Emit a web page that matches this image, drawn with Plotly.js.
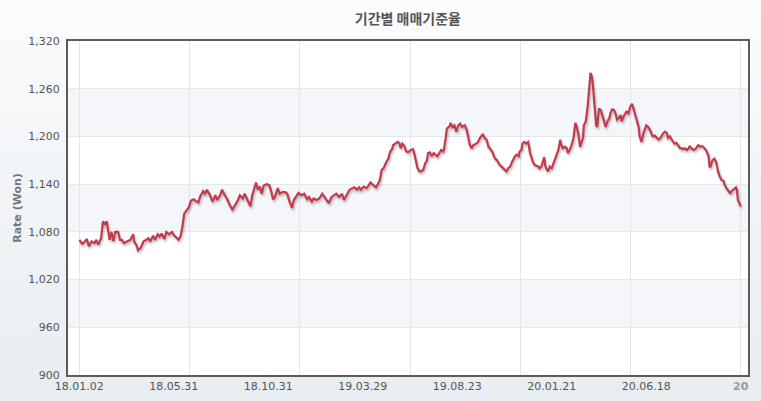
<!DOCTYPE html>
<html>
<head>
<meta charset="utf-8">
<script src="https://cdn.plot.ly/plotly-3.0.1.min.js"></script>
<style>
html,body{margin:0;padding:0;}
body{width:761px;height:401px;background:linear-gradient(#fbfcfd,#e7edf1);overflow:hidden;}
#chart{width:761px;height:401px;}
.scatterlayer path.js-line{filter:drop-shadow(1px 2px 1.2px rgba(0,0,0,0.28));}
</style>
</head>
<body>
<div id="chart"></div>
<script>
// trading-day index (0 = 18.01.02) and KRW/USD base rate
const dayIndex = [0,3,6,8,10,13,16,18,20,23,25,27,29,31,32,34,36,38,41,43,45,47,50,54,57,58,61,62,65,68,71,73,75,78,80,83,85,87,90,92,95,98,100,102,105,107,109,111,114,116,118,121,123,126,
128,131,133,135,138,141,144,146,149,151,154,157,159,162,165,167,170,173,175,178,181,183,185,187,189,191,193,195,198,201,203,205,207,210,212,215,218,220,222,225,227,230,232,235,238,241,243,246,248,251,254,257,259,262,264,267,270,272,275,278,280,283,286,
291,294,296,298,301,304,306,308,311,314,316,318,320,322,325,327,329,331,332,335,337,339,340,342,344,346,348,351,353,354,356,358,360,362,364,366,368,369,371,373,375,377,379,381,383,385,386,388,389,392,393,395,397,399,401,403,405,406,408,410,412,413,415,417,420,422,423,425,427,429,431,433,
435,437,439,440,442,444,445,447,449,451,452,454,456,458,459,461,463,465,466,468,469,471,473,475,476,477,479,480,482,484,486,487,489,491,492,493,494,496,498,500,502,503,505,507,509,510,512,514,516,517,519,521,523,525,526,528,530,532,533,534,536,538,539,540,541,542,543,544,545,547,548,549,550,552,554,555,557,559,561,562,564,566,568,569,571,
573,574,576,578,579,581,583,585,586,588,590,592,593,595,597,599,600,602,604,606,607,609,611,613,615,616,618,620,622,623,625,627,629,630,632,634,636,638,639,641,643,645,646,648,650,652,653,655,657,659,660,662,664,666,667,668,670,672,674,675,676,678,680,682,683,685,687,689,690,692,693,695,696,697,699,700];
const baseRate = [1070,1065,1068,1071,1062,1068,1066,1070,1064,1072,1093,1090,1093,1078,1070,1080,1068,1080,1080,1070,1070,1066,1068,1070,1077,1068,1062,1057,1060,1068,1070,1072,1068,1075,1070,1077,1074,1078,1071,1080,1077,1080,1076,1074,1070,1074,1086,1103,1108,1111,1119,1121,1119,1117,
1125,1131,1128,1133,1127,1118,1126,1120,1126,1133,1126,1120,1114,1108,1114,1118,1126,1122,1128,1120,1112,1126,1133,1142,1133,1137,1128,1138,1140,1139,1131,1121,1124,1135,1128,1130,1130,1128,1120,1110,1120,1126,1129,1126,1128,1121,1124,1118,1122,1120,1122,1128,1125,1120,1116,1124,1126,1128,1124,1128,1120,1126,1133,
1136,1133,1136,1133,1137,1135,1138,1142,1139,1136,1140,1145,1158,1160,1168,1172,1181,1184,1189,1192,1193,1191,1185,1191,1188,1181,1180,1183,1184,1181,1172,1160,1156,1156,1158,1166,1170,1179,1180,1175,1179,1177,1175,1179,1183,1181,1184,1200,1210,1213,1217,1212,1214,1206,1214,1216,1212,1213,1214,1208,1193,1191,1185,1189,1191,1193,1196,1200,1203,1198,1196,1187,
1184,1181,1175,1172,1170,1166,1164,1162,1160,1158,1156,1160,1162,1168,1170,1175,1177,1175,1181,1183,1191,1193,1191,1193,1187,1179,1172,1168,1164,1163,1162,1160,1162,1170,1174,1164,1160,1156,1162,1160,1166,1170,1177,1183,1196,1189,1185,1187,1185,1179,1183,1189,1198,1217,1214,1204,1187,1196,1198,1214,1219,1237,1252,1258,1280,1277,1271,1258,1242,1214,1212,1223,1235,1233,1225,1221,1212,1219,1223,1229,1234,1233,1227,1221,1223,
1227,1219,1225,1229,1231,1229,1237,1241,1237,1231,1221,1212,1200,1193,1204,1212,1214,1212,1208,1202,1200,1201,1198,1196,1198,1200,1204,1206,1204,1198,1200,1196,1193,1191,1192,1189,1185,1185,1184,1185,1183,1185,1188,1185,1183,1184,1186,1189,1187,1188,1187,1185,1181,1175,1162,1162,1170,1172,1168,1162,1156,1149,1145,1144,1139,1135,1131,1128,1131,1133,1135,1136,1133,1120,1115,1112];

const xTickIndex = [0,100,200,300,400,500,600,700];
const xTickLabels = ['18.01.02','18.05.31','18.10.31','19.03.29','19.08.23','20.01.21','20.06.18','<b><span style="color:#9a9a9a">20</span></b>'];
const yTicks = [900,960,1020,1080,1140,1200,1260,1320];
const chartTitle = '기간별 매매기준율';
const yTitle = 'Rate (Won)';

const xMin = -12, xMax = 707.7;
const gridStep = xTickIndex[xTickIndex.length-1] / 6;

// alternating horizontal bands between y gridlines
const bands = [];
for (let i = 0; i < yTicks.length - 1; i++) {
  if (i % 2 === 1) {
    bands.push({type:'rect', xref:'paper', yref:'y', x0:0, x1:1, y0:yTicks[i], y1:yTicks[i+1],
      fillcolor:'#f4f6f9', line:{width:0}, layer:'below'});
  }
}

const trace = {
  x: dayIndex, y: baseRate, type:'scatter', mode:'lines',
  line:{color:'#c33a4c', width:2.2}, hoverinfo:'skip', showlegend:false
};
const gridTrace = {x:[xMin], y:[null], xaxis:'x2', yaxis:'y', type:'scatter', mode:'lines', showlegend:false, hoverinfo:'skip'};

const layout = {
  width:761, height:401,
  margin:{l:68, r:13, t:41, b:26},
  paper_bgcolor:'rgba(0,0,0,0)',
  plot_bgcolor:'#ffffff',
  font:{family:'DejaVu Sans, Verdana, sans-serif', size:11, color:'#555'},
  title:{text:chartTitle, x:0.536, xanchor:'center', y:0.953, yanchor:'middle',
    font:{family:'Noto Sans CJK KR, sans-serif', size:14, color:'#555', weight:'bold'}},
  shapes: bands,
  xaxis:{range:[xMin,xMax], tickvals:xTickIndex, ticktext:xTickLabels, showgrid:false, zeroline:false,
    showline:true, mirror:true, linecolor:'#5b5b5b', linewidth:2, ticks:'', tickfont:{size:11, color:'#555'}},
  xaxis2:{range:[xMin,xMax], overlaying:'x', tick0:0, dtick:gridStep, showgrid:true, gridcolor:'#dfe6ec', gridwidth:1,
    showticklabels:false, zeroline:false, ticks:'', side:'bottom'},
  yaxis:{range:[yTicks[0], yTicks[yTicks.length-1]], tickvals:yTicks, tickformat:',d', showgrid:true, gridcolor:'#e3e8ec',
    zeroline:false, showline:true, mirror:true, linecolor:'#5b5b5b', linewidth:2, ticks:'', ticklabelstandoff:4,
    tickfont:{size:11, color:'#555'},
    title:{text:'<b>'+yTitle+'</b>', standoff:4, font:{size:11, color:'#777'}}}
};

Plotly.newPlot('chart', [gridTrace, trace], layout, {displayModeBar:false, staticPlot:true});
</script>
</body>
</html>
